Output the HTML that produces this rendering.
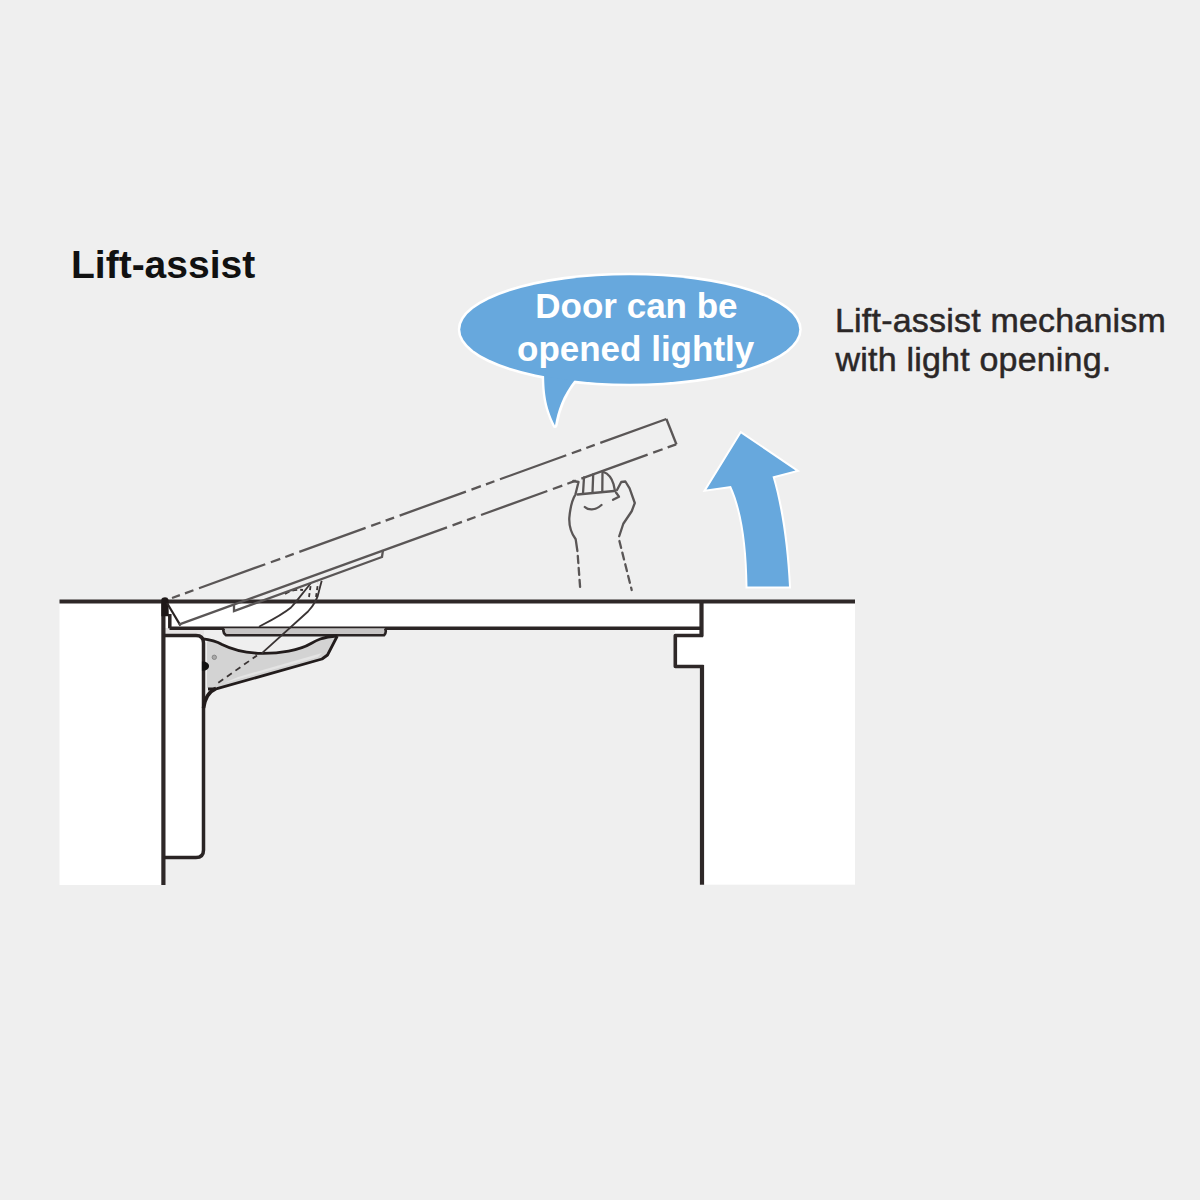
<!DOCTYPE html>
<html><head><meta charset="utf-8">
<style>
html,body{margin:0;padding:0;background:#efefef;}
body{width:1200px;height:1200px;overflow:hidden;}
svg{display:block;}
text{font-family:"Liberation Sans",sans-serif;}
</style></head><body>
<svg width="1200" height="1200" viewBox="0 0 1200 1200">
<rect x="0" y="0" width="1200" height="1200" fill="#efefef"/>

<!-- title -->
<text x="71" y="278" font-size="39" font-weight="bold" fill="#111">Lift-assist</text>

<!-- right text -->
<text x="835" y="331.5" font-size="34" fill="#2b2727" stroke="#2b2727" stroke-width="0.5" letter-spacing="0.2">Lift-assist mechanism</text>
<text x="835.5" y="370.5" font-size="34" fill="#2b2727" stroke="#2b2727" stroke-width="0.5" letter-spacing="0.2">with light opening.</text>

<!-- speech bubble -->
<g id="bubble">
<path id="tail" d="M 544 370 C 544.3 392 545 405 555 425.5 C 557.5 411 562 396 575.5 379 Z" fill="#67a8dd" stroke="#fff" stroke-width="5" stroke-linejoin="round"/>
<ellipse cx="629.75" cy="329.5" rx="169.5" ry="54.2" fill="#67a8dd" stroke="#fff" stroke-width="5"/>
<path d="M 544 370 C 544.3 392 545 405 555 425.5 C 557.5 411 562 396 575.5 379 Z" fill="#67a8dd"/>
<ellipse cx="629.75" cy="329.5" rx="169.5" ry="54.2" fill="#67a8dd"/>
</g>
<text x="535.3" y="317.5" font-size="35" font-weight="bold" fill="#fff">Door can be</text>
<text x="517" y="360.5" font-size="35" font-weight="bold" fill="#fff">opened lightly</text>

<!-- blue arrow -->
<path d="M 741 433.5 L 795.5 470.5 L 772.5 476.5 C 781 505 787 545 789 586.5 L 747.5 586.5 C 747 545 742 510 731 486 L 706.5 489.5 Z" fill="#67a8dd" stroke="#fff" stroke-width="4" stroke-linejoin="miter"/>
<path d="M 741 433.5 L 795.5 470.5 L 772.5 476.5 C 781 505 787 545 789 586.5 L 747.5 586.5 C 747 545 742 510 731 486 L 706.5 489.5 Z" fill="#67a8dd"/>

<!-- cabinet white panels -->
<rect x="59.5" y="602" width="104" height="283" fill="#fff"/>
<rect x="701" y="602" width="154" height="282.7" fill="#fff"/>
<!-- lid (closed) interior -->
<rect x="164" y="602" width="538" height="26" fill="#fff"/>
<!-- mounting plate interior -->
<path d="M 164 635.5 L 196 635.5 Q 203.5 635.5 203.5 643 L 203.5 850 Q 203.5 857.5 196 857.5 L 164 857.5 Z" fill="#fff"/>
<!-- strip below lid -->
<rect x="164" y="628" width="40" height="7.5" fill="#e6e4e4"/>
<!-- notch interior -->
<rect x="675" y="628" width="27" height="39" fill="#fff"/>

<!-- hinge arm gray fill -->
<path d="M 207 640.5 C 220 643 232 650 245 652.5 C 262 654.5 290 652 305 647 C 315 643 320 638 337 636 L 327.5 656.7 L 322 660 L 217 688.7 L 207 688 Z" fill="#d3d3d3"/>
<path d="M 224 683 L 318 657 L 322 653 L 238 677 Z" fill="#e4e4e4"/>

<!-- thick cabinet lines -->
<g stroke="#2e2828" fill="none" stroke-width="4.2" stroke-linecap="butt">
<line x1="59.5" y1="601.5" x2="855" y2="601.5"/>
<line x1="163.4" y1="600" x2="163.4" y2="885"/>
<line x1="701.5" y1="600" x2="701.5" y2="636.5"/>
<line x1="702" y1="665" x2="702" y2="884.7"/>
<path d="M 703 635.5 L 675.3 635.5 L 675.3 666.5 L 703.5 666.5" stroke-linejoin="round" stroke-width="3.6"/>
</g>
<g stroke="#2a2424" fill="none" stroke-width="3.5" stroke-linejoin="round">
<line x1="169.5" y1="628.3" x2="701" y2="628.3"/>
<line x1="169.8" y1="614" x2="169.8" y2="628.3"/>
<path d="M 163.7 635.5 L 196 635.5 Q 203.5 635.5 203.5 643 L 203.5 850 Q 203.5 857.5 196 857.5 L 163.7 857.5"/>
<!-- closed bar -->
<path d="M 224 628.3 Q 222 632 226 635.3 L 384 635.3 Q 387 632 385 628.3" fill="#c6c4c4" stroke-width="2.6"/>
</g>
<!-- post at pivot -->
<path d="M 161.4 599 Q 162 597.3 165 597.3 Q 168 597.3 168.4 599.5 L 168.8 616.3 L 161.4 616.3 Z" fill="#1e1818"/>

<!-- hinge arm lines -->
<g stroke="#221c1c" fill="none" stroke-width="2.8" stroke-linejoin="round">
<path d="M 201.7 638.7 C 208 639.5 215 640.5 222 644.5 C 232 649.5 243 652.5 258 653.3 C 280 654 300 650 311 643.5 C 316 640.5 322 637 337 636"/>
<path d="M 337.3 636 L 327.5 655 L 322 659 L 217 688.7 L 208 689"/>
<path d="M 216 688.5 C 210 691 205 698 203.5 708" stroke-width="3.6"/>
</g>
<path d="M 203 662.5 A 5 3.6 0 0 1 203 669.7 Z" fill="#111" stroke="#111" stroke-width="2.2"/>
<circle cx="214.3" cy="657.3" r="2.2" fill="#aaa" stroke="#888" stroke-width="1"/>

<!-- open-state hinge lines -->
<g stroke="#3a3434" fill="none" stroke-width="1.8">
<path d="M 261.7 653.3 L 308 611.5 C 314 605 318 597 319 591 L 321.7 580.8"/>
<path d="M 259 626.7 C 270 621 282 615 291 607.5 C 297 601 302 594 311 583"/>
<path d="M 218.3 682.7 L 257 655.5" stroke-dasharray="6 4.5"/>
<path d="M 285 594 C 290 591 296 589 303 590" stroke-dasharray="5 3"/>
<path d="M 309 597 L 311 583 M 316 597 L 318 583" stroke-dasharray="4 3"/>
</g>

<!-- open lid -->
<g stroke="#5a5656" fill="none" stroke-width="2.3">
<path d="M 167 603 L 180.5 625.6" stroke="#2a2424" stroke-width="2.2"/>
<path d="M 178.7 624.6 L 447 527.36"/>
<path d="M 447 527.36 L 677 444" stroke-dasharray="70.5 5.9 10 5.4 9 5.9" stroke-dashoffset="70.5"/>
<path d="M 172 598 L 666.4 419" stroke-dasharray="70.5 5.9 10 5.4 9 5.9" stroke-dashoffset="78"/>
<path d="M 666.4 419 L 676.5 444.5" stroke-linejoin="round"/>
<!-- open bar -->
<path d="M 234 604 L 234 611 L 382 557 L 383 550"/>
</g>

<!-- hand -->
<g stroke="#5a5656" fill="none" stroke-width="2.3" stroke-linecap="round" stroke-linejoin="round">
<path d="M 573.3 481 L 578.5 482 L 575.4 494.6 C 572 500 570 510 569.3 518 C 569 526 571 533 575.7 539.3 L 577.4 551"/>
<path d="M 577.8 556 L 580.3 590" stroke-dasharray="7 5"/>
<path d="M 577.5 494.5 L 614 491"/>
<path d="M 584 477.5 L 583 493.5 M 593.2 474.5 L 592.5 492.5 M 602.5 471.5 L 602.3 491.5"/>
<path d="M 603.5 472 C 609 474 612 479 613.5 484 L 615 491"/>
<path d="M 617 490 L 621.25 482 L 625.4 481.5 L 629.6 488.3 L 634.8 503 L 631.7 511.25 L 623.3 523.75 L 619.2 536.25"/>
<path d="M 613 499.8 L 619 496.7 L 616 492.5"/>
<path d="M 619.4 541 L 631.7 590" stroke-dasharray="7 5"/>
<path d="M 584.8 507 C 588 510 595 511 601.5 505"/>
</g>
</svg>
</body></html>
